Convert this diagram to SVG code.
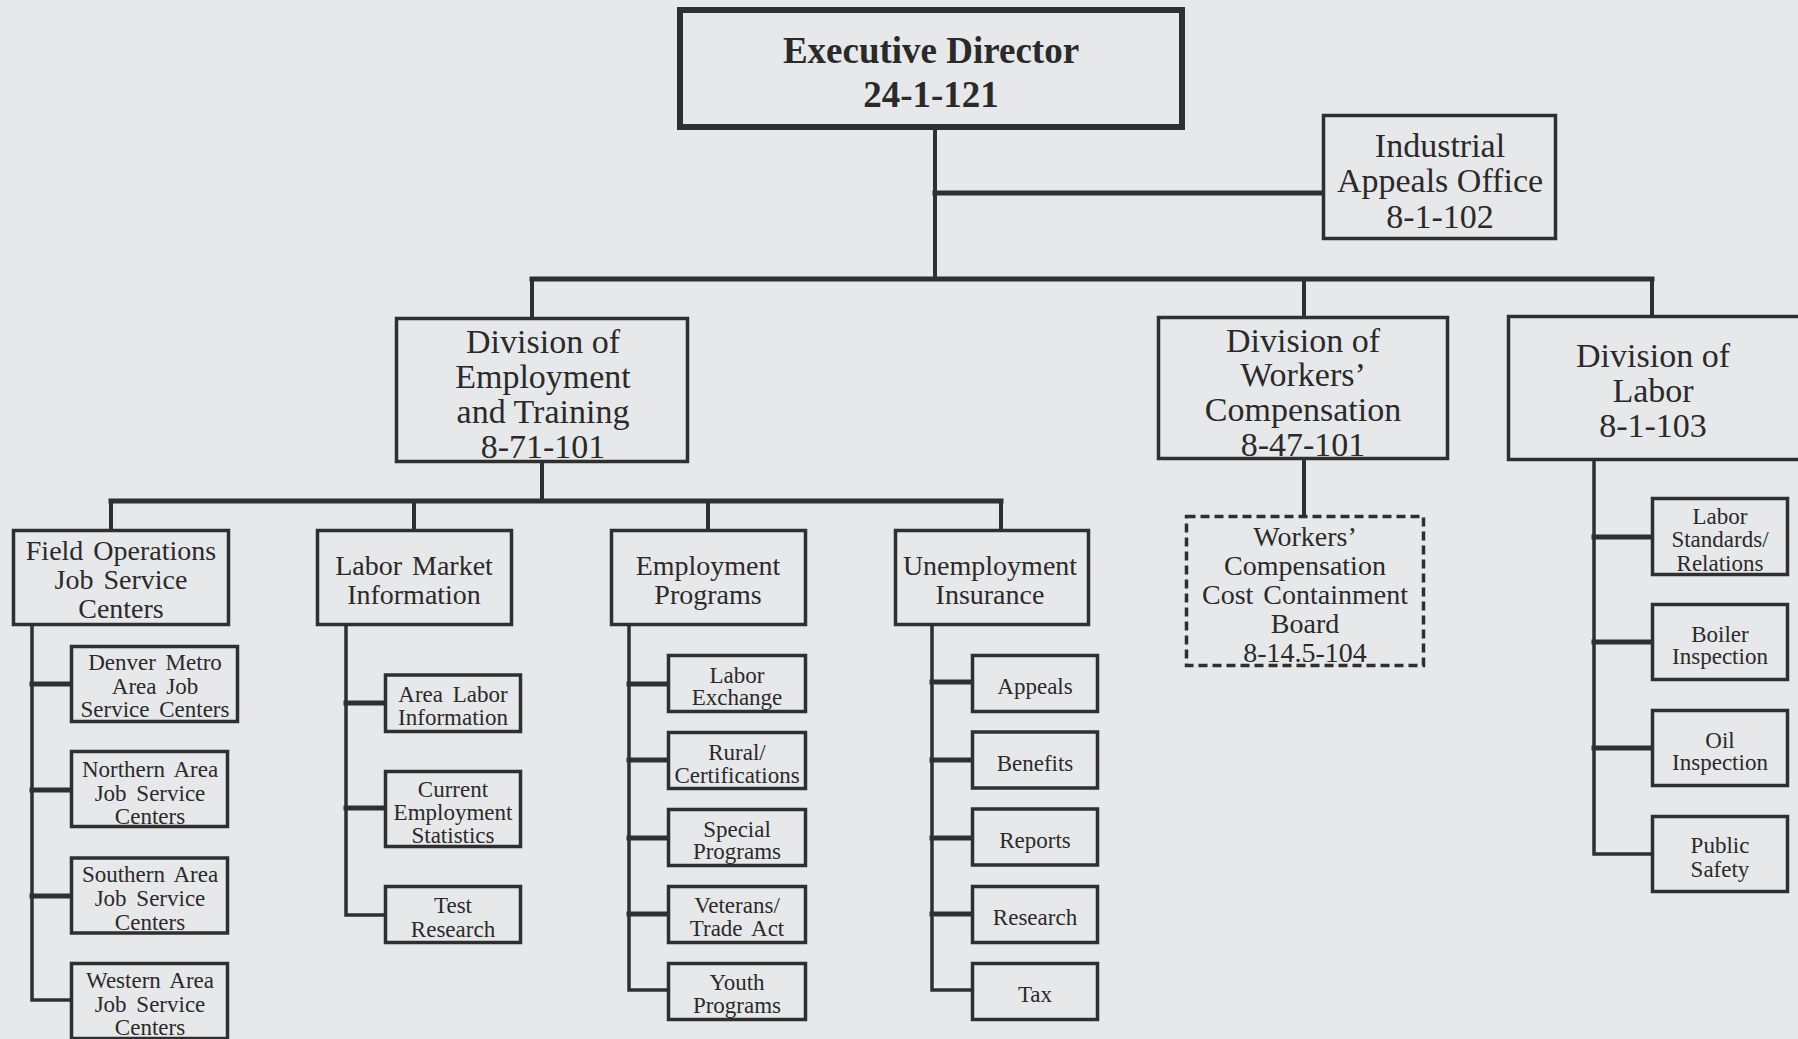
<svg xmlns="http://www.w3.org/2000/svg" width="1798" height="1039" viewBox="0 0 1798 1039">
<style>
.bg{fill:#e7e8ea}
.box{fill:none;stroke:#2f2f2f;stroke-width:3.5}
.exec{fill:none;stroke:#2f2f2f;stroke-width:6}
.dash{fill:none;stroke:#2f2f2f;stroke-width:3.5;stroke-dasharray:9 5}
.t{font-family:"Liberation Serif","Times New Roman",serif;fill:#2a2a2a;text-anchor:middle}
.tb{font-weight:bold;font-size:37px}
.t1{font-size:34px}
.t2{font-size:28px;word-spacing:3px}
.t3{font-size:23px;word-spacing:4px}
.h{stroke:#2f2f2f;stroke-width:5;fill:none;stroke-linecap:square}
.v{stroke:#2f2f2f;stroke-width:4;fill:none;stroke-linecap:square}
.tr{stroke:#2f2f2f;stroke-width:3.5;fill:none;stroke-linecap:square}
</style>
<rect class="bg" x="0" y="0" width="1798" height="1039"/>

<g id="connectors">
  <line class="v" x1="935" y1="130" x2="935" y2="279"/>
  <line class="h" x1="935" y1="193" x2="1322" y2="193"/>
  <line class="h" x1="532" y1="279" x2="1652" y2="279"/>
  <line class="v" x1="532" y1="279" x2="532" y2="317"/>
  <line class="v" x1="1304" y1="279" x2="1304" y2="316"/>
  <line class="v" x1="1652" y1="279" x2="1652" y2="315"/>
  <line class="v" x1="542" y1="463" x2="542" y2="501"/>
  <line class="h" x1="111" y1="501" x2="1001" y2="501"/>
  <line class="v" x1="111" y1="501" x2="111" y2="529"/>
  <line class="v" x1="414" y1="501" x2="414" y2="529"/>
  <line class="v" x1="708" y1="501" x2="708" y2="529"/>
  <line class="v" x1="1001" y1="501" x2="1001" y2="529"/>
  <line class="v" x1="1304" y1="460" x2="1304" y2="515"/>
  <polyline class="tr" points="32,626 32,1000 70,1000"/>
  <line class="h" x1="32" y1="684" x2="70" y2="684"/>
  <line class="h" x1="32" y1="790" x2="70" y2="790"/>
  <line class="h" x1="32" y1="896" x2="70" y2="896"/>
  <polyline class="tr" points="346,626 346,915 384,915"/>
  <line class="h" x1="346" y1="703" x2="384" y2="703"/>
  <line class="h" x1="346" y1="808" x2="384" y2="808"/>
  <polyline class="tr" points="629,626 629,990 667,990"/>
  <line class="h" x1="629" y1="684" x2="667" y2="684"/>
  <line class="h" x1="629" y1="760" x2="667" y2="760"/>
  <line class="h" x1="629" y1="838" x2="667" y2="838"/>
  <line class="h" x1="629" y1="914" x2="667" y2="914"/>
  <polyline class="tr" points="932,626 932,990 971,990"/>
  <line class="h" x1="932" y1="682" x2="971" y2="682"/>
  <line class="h" x1="932" y1="760" x2="971" y2="760"/>
  <line class="h" x1="932" y1="838" x2="971" y2="838"/>
  <line class="h" x1="932" y1="914" x2="971" y2="914"/>
  <polyline class="tr" points="1594,461 1594,854 1651,854"/>
  <line class="h" x1="1594" y1="537" x2="1651" y2="537"/>
  <line class="h" x1="1594" y1="642" x2="1651" y2="642"/>
  <line class="h" x1="1594" y1="748" x2="1651" y2="748"/>
</g>

<g id="exec">
  <rect class="exec" x="680" y="10" width="502" height="117"/>
  <text class="t tb" x="931" y="63">Executive Director</text>
  <text class="t tb" x="931" y="107">24-1-121</text>
</g>
<g id="industrial">
  <rect class="box" x="1323.5" y="115.5" width="232" height="123"/>
  <text class="t t1" x="1440" y="157">Industrial</text>
  <text class="t t1" x="1440" y="192">Appeals Office</text>
  <text class="t t1" x="1440" y="228">8-1-102</text>
</g>
<g id="div_emp">
  <rect class="box" x="396.5" y="318.5" width="291" height="143"/>
  <text class="t t1" x="543" y="353">Division of</text>
  <text class="t t1" x="543" y="388">Employment</text>
  <text class="t t1" x="543" y="423">and Training</text>
  <text class="t t1" x="543" y="458">8-71-101</text>
</g>
<g id="div_wc">
  <rect class="box" x="1158.5" y="317.5" width="289" height="141"/>
  <text class="t t1" x="1303" y="352">Division of</text>
  <text class="t t1" x="1303" y="386">Workers’</text>
  <text class="t t1" x="1303" y="421">Compensation</text>
  <text class="t t1" x="1303" y="456">8-47-101</text>
</g>
<g id="div_labor">
  <rect class="box" x="1508.5" y="316.5" width="300" height="143"/>
  <text class="t t1" x="1653" y="367">Division of</text>
  <text class="t t1" x="1653" y="402">Labor</text>
  <text class="t t1" x="1653" y="437">8-1-103</text>
</g>
<g id="wc_board">
  <rect class="dash" x="1186.5" y="516.5" width="237" height="149"/>
  <text class="t t2" x="1305" y="546">Workers’</text>
  <text class="t t2" x="1305" y="575">Compensation</text>
  <text class="t t2" x="1305" y="604">Cost Containment</text>
  <text class="t t2" x="1305" y="633">Board</text>
  <text class="t t2" x="1305" y="662">8-14.5-104</text>
</g>

<g id="field_ops">
  <rect class="box" x="13.5" y="530.5" width="215" height="94"/>
  <text class="t t2" x="121" y="560">Field Operations</text>
  <text class="t t2" x="121" y="589">Job Service</text>
  <text class="t t2" x="121" y="618">Centers</text>
</g>
<g id="lmi">
  <rect class="box" x="317.5" y="530.5" width="194" height="94"/>
  <text class="t t2" x="414" y="575">Labor Market</text>
  <text class="t t2" x="414" y="604">Information</text>
</g>
<g id="emp_programs">
  <rect class="box" x="611.5" y="530.5" width="194" height="94"/>
  <text class="t t2" x="708" y="575">Employment</text>
  <text class="t t2" x="708" y="604">Programs</text>
</g>
<g id="ui">
  <rect class="box" x="895.5" y="530.5" width="193" height="94"/>
  <text class="t t2" x="990" y="575">Unemployment</text>
  <text class="t t2" x="990" y="604">Insurance</text>
</g>

<g id="denver">
  <rect class="box" x="71.5" y="646.5" width="166" height="75"/>
  <text class="t t3" x="155" y="670">Denver Metro</text>
  <text class="t t3" x="155" y="694">Area Job</text>
  <text class="t t3" x="155" y="717">Service Centers</text>
</g>
<g id="northern">
  <rect class="box" x="71.5" y="751.5" width="156" height="75"/>
  <text class="t t3" x="150" y="777">Northern Area</text>
  <text class="t t3" x="150" y="801">Job Service</text>
  <text class="t t3" x="150" y="824">Centers</text>
</g>
<g id="southern">
  <rect class="box" x="71.5" y="858" width="156" height="75"/>
  <text class="t t3" x="150" y="882">Southern Area</text>
  <text class="t t3" x="150" y="906">Job Service</text>
  <text class="t t3" x="150" y="930">Centers</text>
</g>
<g id="western">
  <rect class="box" x="71.5" y="963.5" width="156" height="75"/>
  <text class="t t3" x="150" y="988">Western Area</text>
  <text class="t t3" x="150" y="1012">Job Service</text>
  <text class="t t3" x="150" y="1035">Centers</text>
</g>

<g id="area_labor">
  <rect class="box" x="385.5" y="675" width="135" height="56.5"/>
  <text class="t t3" x="453" y="702">Area Labor</text>
  <text class="t t3" x="453" y="725">Information</text>
</g>
<g id="current_emp">
  <rect class="box" x="385.5" y="771.5" width="135" height="75"/>
  <text class="t t3" x="453" y="797">Current</text>
  <text class="t t3" x="453" y="820">Employment</text>
  <text class="t t3" x="453" y="843">Statistics</text>
</g>
<g id="test_research">
  <rect class="box" x="385.5" y="886.5" width="135" height="56"/>
  <text class="t t3" x="453" y="913">Test</text>
  <text class="t t3" x="453" y="937">Research</text>
</g>

<g id="labor_exchange">
  <rect class="box" x="668.5" y="655.5" width="137" height="56"/>
  <text class="t t3" x="737" y="683">Labor</text>
  <text class="t t3" x="737" y="705">Exchange</text>
</g>
<g id="rural">
  <rect class="box" x="668.5" y="732.5" width="137" height="56"/>
  <text class="t t3" x="737" y="760">Rural/</text>
  <text class="t t3" x="737" y="783">Certifications</text>
</g>
<g id="special">
  <rect class="box" x="668.5" y="809.5" width="137" height="56"/>
  <text class="t t3" x="737" y="837">Special</text>
  <text class="t t3" x="737" y="859">Programs</text>
</g>
<g id="veterans">
  <rect class="box" x="668.5" y="886.5" width="137" height="56"/>
  <text class="t t3" x="737" y="913">Veterans/</text>
  <text class="t t3" x="737" y="936">Trade Act</text>
</g>
<g id="youth">
  <rect class="box" x="668.5" y="963.5" width="137" height="56"/>
  <text class="t t3" x="737" y="990">Youth</text>
  <text class="t t3" x="737" y="1013">Programs</text>
</g>

<g id="appeals">
  <rect class="box" x="972.5" y="655.5" width="125" height="56"/>
  <text class="t t3" x="1035" y="694">Appeals</text>
</g>
<g id="benefits">
  <rect class="box" x="972.5" y="732" width="125" height="56"/>
  <text class="t t3" x="1035" y="771">Benefits</text>
</g>
<g id="reports">
  <rect class="box" x="972.5" y="809" width="125" height="56"/>
  <text class="t t3" x="1035" y="848">Reports</text>
</g>
<g id="research">
  <rect class="box" x="972.5" y="886.5" width="125" height="56"/>
  <text class="t t3" x="1035" y="925">Research</text>
</g>
<g id="tax">
  <rect class="box" x="972.5" y="963.5" width="125" height="56"/>
  <text class="t t3" x="1035" y="1002">Tax</text>
</g>

<g id="labor_standards">
  <rect class="box" x="1652.5" y="498.5" width="135" height="76"/>
  <text class="t t3" x="1720" y="524">Labor</text>
  <text class="t t3" x="1720" y="547">Standards/</text>
  <text class="t t3" x="1720" y="571">Relations</text>
</g>
<g id="boiler">
  <rect class="box" x="1652.5" y="604.5" width="135" height="75"/>
  <text class="t t3" x="1720" y="642">Boiler</text>
  <text class="t t3" x="1720" y="664">Inspection</text>
</g>
<g id="oil">
  <rect class="box" x="1652.5" y="710.5" width="135" height="75"/>
  <text class="t t3" x="1720" y="748">Oil</text>
  <text class="t t3" x="1720" y="770">Inspection</text>
</g>
<g id="public_safety">
  <rect class="box" x="1652.5" y="816.5" width="135" height="75"/>
  <text class="t t3" x="1720" y="853">Public</text>
  <text class="t t3" x="1720" y="877">Safety</text>
</g>
</svg>
